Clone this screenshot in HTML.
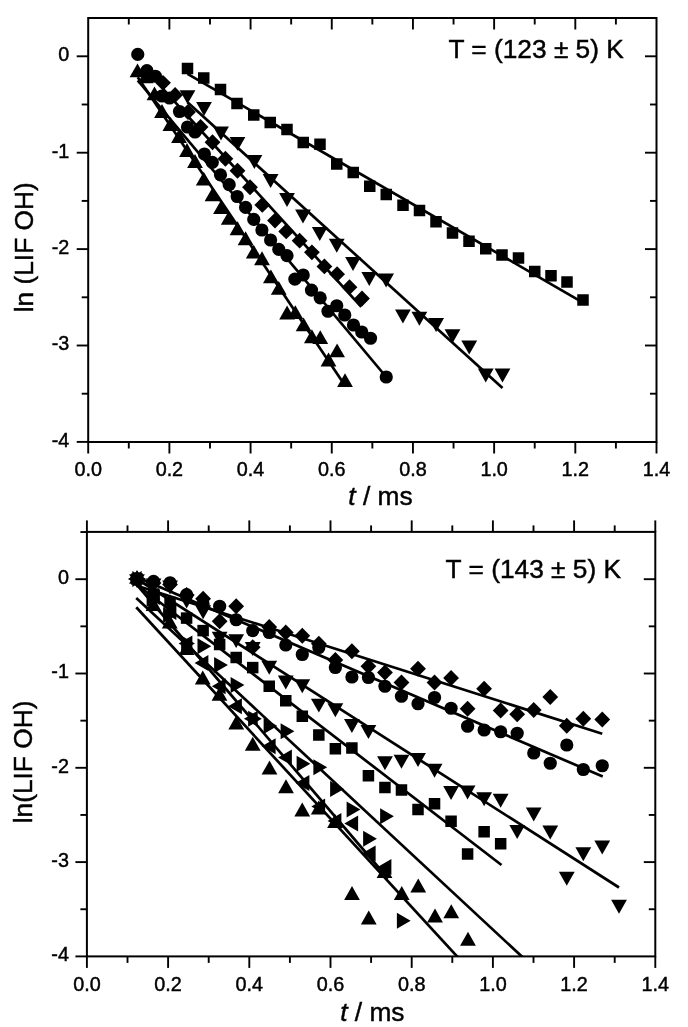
<!DOCTYPE html>
<html lang="en"><head><meta charset="utf-8"><title>ln(LIF OH) vs t</title>
<style>html,body{margin:0;padding:0;background:#fff}svg{display:block}text{font-family:'Liberation Sans', Arial, sans-serif;fill:#000;stroke:#000;stroke-width:.45px}</style>
</head><body>
<svg width="688" height="1027" viewBox="0 0 688 1027">
<rect width="688" height="1027" fill="#fff"/>
<!-- top panel: T = 123 K -->
<g stroke="#000" stroke-width="2" fill="none" stroke-linecap="butt">
<rect x="88.2" y="18" width="568.3" height="424"/>
<line x1="88.2" y1="442" x2="88.2" y2="453.5" stroke-width="1.9"/>
<line x1="128.79" y1="442" x2="128.79" y2="448.5" stroke-width="1.9"/>
<line x1="128.79" y1="18" x2="128.79" y2="24.5" stroke-width="1.9"/>
<line x1="169.39" y1="442" x2="169.39" y2="453.5" stroke-width="1.9"/>
<line x1="169.39" y1="18" x2="169.39" y2="29.5" stroke-width="1.9"/>
<line x1="209.98" y1="442" x2="209.98" y2="448.5" stroke-width="1.9"/>
<line x1="209.98" y1="18" x2="209.98" y2="24.5" stroke-width="1.9"/>
<line x1="250.57" y1="442" x2="250.57" y2="453.5" stroke-width="1.9"/>
<line x1="250.57" y1="18" x2="250.57" y2="29.5" stroke-width="1.9"/>
<line x1="291.16" y1="442" x2="291.16" y2="448.5" stroke-width="1.9"/>
<line x1="291.16" y1="18" x2="291.16" y2="24.5" stroke-width="1.9"/>
<line x1="331.76" y1="442" x2="331.76" y2="453.5" stroke-width="1.9"/>
<line x1="331.76" y1="18" x2="331.76" y2="29.5" stroke-width="1.9"/>
<line x1="372.35" y1="442" x2="372.35" y2="448.5" stroke-width="1.9"/>
<line x1="372.35" y1="18" x2="372.35" y2="24.5" stroke-width="1.9"/>
<line x1="412.94" y1="442" x2="412.94" y2="453.5" stroke-width="1.9"/>
<line x1="412.94" y1="18" x2="412.94" y2="29.5" stroke-width="1.9"/>
<line x1="453.54" y1="442" x2="453.54" y2="448.5" stroke-width="1.9"/>
<line x1="453.54" y1="18" x2="453.54" y2="24.5" stroke-width="1.9"/>
<line x1="494.13" y1="442" x2="494.13" y2="453.5" stroke-width="1.9"/>
<line x1="494.13" y1="18" x2="494.13" y2="29.5" stroke-width="1.9"/>
<line x1="534.72" y1="442" x2="534.72" y2="448.5" stroke-width="1.9"/>
<line x1="534.72" y1="18" x2="534.72" y2="24.5" stroke-width="1.9"/>
<line x1="575.31" y1="442" x2="575.31" y2="453.5" stroke-width="1.9"/>
<line x1="575.31" y1="18" x2="575.31" y2="29.5" stroke-width="1.9"/>
<line x1="615.91" y1="442" x2="615.91" y2="448.5" stroke-width="1.9"/>
<line x1="615.91" y1="18" x2="615.91" y2="24.5" stroke-width="1.9"/>
<line x1="656.5" y1="442" x2="656.5" y2="453.5" stroke-width="1.9"/>
<line x1="88.2" y1="56.3" x2="76.7" y2="56.3" stroke-width="1.9"/>
<line x1="656.5" y1="56.3" x2="645" y2="56.3" stroke-width="1.9"/>
<line x1="88.2" y1="104.5" x2="81.7" y2="104.5" stroke-width="1.9"/>
<line x1="656.5" y1="104.5" x2="650" y2="104.5" stroke-width="1.9"/>
<line x1="88.2" y1="152.7" x2="76.7" y2="152.7" stroke-width="1.9"/>
<line x1="656.5" y1="152.7" x2="645" y2="152.7" stroke-width="1.9"/>
<line x1="88.2" y1="200.9" x2="81.7" y2="200.9" stroke-width="1.9"/>
<line x1="656.5" y1="200.9" x2="650" y2="200.9" stroke-width="1.9"/>
<line x1="88.2" y1="249.1" x2="76.7" y2="249.1" stroke-width="1.9"/>
<line x1="656.5" y1="249.1" x2="645" y2="249.1" stroke-width="1.9"/>
<line x1="88.2" y1="297.3" x2="81.7" y2="297.3" stroke-width="1.9"/>
<line x1="656.5" y1="297.3" x2="650" y2="297.3" stroke-width="1.9"/>
<line x1="88.2" y1="345.5" x2="76.7" y2="345.5" stroke-width="1.9"/>
<line x1="656.5" y1="345.5" x2="645" y2="345.5" stroke-width="1.9"/>
<line x1="88.2" y1="393.7" x2="81.7" y2="393.7" stroke-width="1.9"/>
<line x1="656.5" y1="393.7" x2="650" y2="393.7" stroke-width="1.9"/>
<line x1="88.2" y1="441.9" x2="76.7" y2="441.9" stroke-width="1.9"/>
</g>
<g font-size="19.8">
<text x="88.2" y="476.3" text-anchor="middle">0.0</text>
<text x="169.39" y="476.3" text-anchor="middle">0.2</text>
<text x="250.57" y="476.3" text-anchor="middle">0.4</text>
<text x="331.76" y="476.3" text-anchor="middle">0.6</text>
<text x="412.94" y="476.3" text-anchor="middle">0.8</text>
<text x="494.13" y="476.3" text-anchor="middle">1.0</text>
<text x="575.31" y="476.3" text-anchor="middle">1.2</text>
<text x="656.5" y="476.3" text-anchor="middle">1.4</text>
<text x="69.3" y="61.2" text-anchor="end">0</text>
<text x="69.3" y="157.6" text-anchor="end">-1</text>
<text x="69.3" y="254" text-anchor="end">-2</text>
<text x="69.3" y="350.4" text-anchor="end">-3</text>
<text x="69.3" y="446.8" text-anchor="end">-4</text>
</g>
<g font-size="26.3">
<text x="348.3" y="504.5"><tspan font-style="italic">t</tspan> / ms</text>
<text transform="translate(32.6 312.3) rotate(-90)">ln (LIF OH)</text>
<text x="448.4" y="57.8">T = (123 ± 5) K</text>
</g>
<g stroke="#000" fill="none" stroke-linecap="butt">
<line x1="187.5" y1="73.9" x2="583" y2="302.6" stroke-width="2.7"/>
<line x1="187.5" y1="102.3" x2="502.5" y2="388" stroke-width="2.7"/>
<line x1="162.8" y1="88.6" x2="361.25" y2="306.9" stroke-width="2.7"/>
<line x1="137.75" y1="80.3" x2="386.25" y2="377" stroke-width="2.7"/>
<line x1="137.75" y1="77.2" x2="345" y2="385.6" stroke-width="2.7"/>
</g>
<g fill="#000">
<rect x="181.75" y="62.75" width="11.5" height="11.5"/>
<rect x="198" y="72.25" width="11.5" height="11.5"/>
<rect x="214.75" y="83.75" width="11.5" height="11.5"/>
<rect x="231.25" y="97.75" width="11.5" height="11.5"/>
<rect x="248" y="109.25" width="11.5" height="11.5"/>
<rect x="264.5" y="116.75" width="11.5" height="11.5"/>
<rect x="281.25" y="123.75" width="11.5" height="11.5"/>
<rect x="297.5" y="136.75" width="11.5" height="11.5"/>
<rect x="314.25" y="138.5" width="11.5" height="11.5"/>
<rect x="331" y="158.25" width="11.5" height="11.5"/>
<rect x="347.5" y="166.75" width="11.5" height="11.5"/>
<rect x="364" y="180.5" width="11.5" height="11.5"/>
<rect x="380.5" y="188.75" width="11.5" height="11.5"/>
<rect x="397.25" y="199.5" width="11.5" height="11.5"/>
<rect x="413.75" y="204.75" width="11.5" height="11.5"/>
<rect x="430.25" y="216" width="11.5" height="11.5"/>
<rect x="446.75" y="227.25" width="11.5" height="11.5"/>
<rect x="463.25" y="235.5" width="11.5" height="11.5"/>
<rect x="480" y="243" width="11.5" height="11.5"/>
<rect x="496.25" y="249.25" width="11.5" height="11.5"/>
<rect x="512.75" y="252.25" width="11.5" height="11.5"/>
<rect x="529" y="265.75" width="11.5" height="11.5"/>
<rect x="545.25" y="270" width="11.5" height="11.5"/>
<rect x="561.25" y="276.25" width="11.5" height="11.5"/>
<rect x="577.25" y="294.25" width="11.5" height="11.5"/>
<polygon points="179.6,90.2 195.4,90.2 187.5,104"/>
<polygon points="196.1,102.1 211.9,102.1 204,115.9"/>
<polygon points="213.1,126.6 228.9,126.6 221,140.4"/>
<polygon points="229.6,137 245.4,137 237.5,150.8"/>
<polygon points="246.5,155.1 262.3,155.1 254.4,168.9"/>
<polygon points="262.7,174.1 278.5,174.1 270.6,187.9"/>
<polygon points="279.1,193.1 294.9,193.1 287,206.9"/>
<polygon points="295.1,209.6 310.9,209.6 303,223.4"/>
<polygon points="311.85,227.1 327.65,227.1 319.75,240.9"/>
<polygon points="328.85,238.85 344.65,238.85 336.75,252.65"/>
<polygon points="345.1,257.1 360.9,257.1 353,270.9"/>
<polygon points="361.35,272.1 377.15,272.1 369.25,285.9"/>
<polygon points="378.2,273.6 394,273.6 386.1,287.4"/>
<polygon points="395,309.6 410.8,309.6 402.9,323.4"/>
<polygon points="411.5,311.85 427.3,311.85 419.4,325.65"/>
<polygon points="428.2,318.1 444,318.1 436.1,331.9"/>
<polygon points="444.6,329.35 460.4,329.35 452.5,343.15"/>
<polygon points="461.35,340.6 477.15,340.6 469.25,354.4"/>
<polygon points="477.85,368.6 493.65,368.6 485.75,382.4"/>
<polygon points="494.6,368.6 510.4,368.6 502.5,382.4"/>
<polygon points="163,74.9 170.9,82.8 163,90.7 155.1,82.8"/>
<polygon points="175.1,87.1 183,95 175.1,102.9 167.2,95"/>
<polygon points="188,104.1 195.9,112 188,119.9 180.1,112"/>
<polygon points="200.6,119.1 208.5,127 200.6,134.9 192.7,127"/>
<polygon points="212.5,134.35 220.4,142.25 212.5,150.15 204.6,142.25"/>
<polygon points="225.4,150.85 233.3,158.75 225.4,166.65 217.5,158.75"/>
<polygon points="237.5,162.85 245.4,170.75 237.5,178.65 229.6,170.75"/>
<polygon points="250,179.35 257.9,187.25 250,195.15 242.1,187.25"/>
<polygon points="262.3,197 270.2,204.9 262.3,212.8 254.4,204.9"/>
<polygon points="275,212.7 282.9,220.6 275,228.5 267.1,220.6"/>
<polygon points="286.2,223.5 294.1,231.4 286.2,239.3 278.3,231.4"/>
<polygon points="299.6,232.8 307.5,240.7 299.6,248.6 291.7,240.7"/>
<polygon points="311.9,244.4 319.8,252.3 311.9,260.2 304,252.3"/>
<polygon points="324.4,258.5 332.3,266.4 324.4,274.3 316.5,266.4"/>
<polygon points="337.1,266.3 345,274.2 337.1,282.1 329.2,274.2"/>
<polygon points="349.5,279.3 357.4,287.2 349.5,295.1 341.6,287.2"/>
<polygon points="362,290.6 369.9,298.5 362,306.4 354.1,298.5"/>
<circle cx="137.75" cy="54.4" r="6.6"/>
<circle cx="146.9" cy="70.6" r="6.6"/>
<circle cx="155.4" cy="76.25" r="6.6"/>
<circle cx="162" cy="96" r="6.6"/>
<circle cx="169.5" cy="98" r="6.6"/>
<circle cx="179.5" cy="111.5" r="6.6"/>
<circle cx="187.5" cy="127" r="6.6"/>
<circle cx="195" cy="132" r="6.6"/>
<circle cx="204.4" cy="154" r="6.6"/>
<circle cx="212.3" cy="162.3" r="6.6"/>
<circle cx="220.5" cy="174.8" r="6.6"/>
<circle cx="229.2" cy="184.7" r="6.6"/>
<circle cx="237.2" cy="196.5" r="6.6"/>
<circle cx="245.6" cy="207.4" r="6.6"/>
<circle cx="253.75" cy="219.4" r="6.6"/>
<circle cx="261.9" cy="230" r="6.6"/>
<circle cx="270.6" cy="240" r="6.6"/>
<circle cx="278.8" cy="249.3" r="6.6"/>
<circle cx="287" cy="255.7" r="6.6"/>
<circle cx="294.9" cy="279.2" r="6.6"/>
<circle cx="303.2" cy="275" r="6.6"/>
<circle cx="311.5" cy="290.1" r="6.6"/>
<circle cx="320.2" cy="297.8" r="6.6"/>
<circle cx="328" cy="311.25" r="6.6"/>
<circle cx="336.75" cy="305.75" r="6.6"/>
<circle cx="344.75" cy="315" r="6.6"/>
<circle cx="353.5" cy="325" r="6.6"/>
<circle cx="361.75" cy="332" r="6.6"/>
<circle cx="370.5" cy="338.25" r="6.6"/>
<circle cx="386.25" cy="377" r="6.6"/>
<polygon points="137.5,63.5 145.4,77.3 129.6,77.3"/>
<polygon points="145.6,69.5 153.5,83.3 137.7,83.3"/>
<polygon points="154.5,86.5 162.4,100.3 146.6,100.3"/>
<polygon points="162,104.1 169.9,117.9 154.1,117.9"/>
<polygon points="170.4,117.1 178.3,130.9 162.5,130.9"/>
<polygon points="179,129.1 186.9,142.9 171.1,142.9"/>
<polygon points="187,143.1 194.9,156.9 179.1,156.9"/>
<polygon points="195,154.1 202.9,167.9 187.1,167.9"/>
<polygon points="203.75,171.7 211.65,185.5 195.85,185.5"/>
<polygon points="212.5,187.4 220.4,201.2 204.6,201.2"/>
<polygon points="221,200.2 228.9,214 213.1,214"/>
<polygon points="228.75,211 236.65,224.8 220.85,224.8"/>
<polygon points="237.5,221.35 245.4,235.15 229.6,235.15"/>
<polygon points="245.6,231.35 253.5,245.15 237.7,245.15"/>
<polygon points="253.75,244.7 261.65,258.5 245.85,258.5"/>
<polygon points="262,251.35 269.9,265.15 254.1,265.15"/>
<polygon points="270.9,269.5 278.8,283.3 263,283.3"/>
<polygon points="278.75,281 286.65,294.8 270.85,294.8"/>
<polygon points="287.1,305.6 295,319.4 279.2,319.4"/>
<polygon points="295.3,305.2 303.2,319 287.4,319"/>
<polygon points="303.6,317.5 311.5,331.3 295.7,331.3"/>
<polygon points="311.9,329.35 319.8,343.15 304,343.15"/>
<polygon points="320.25,330.2 328.15,344 312.35,344"/>
<polygon points="328.5,352.6 336.4,366.4 320.6,366.4"/>
<polygon points="337.1,343.5 345,357.3 329.2,357.3"/>
<polygon points="345,373.2 352.9,387 337.1,387"/>
</g>
<!-- bottom panel: T = 143 K -->
<g stroke="#000" stroke-width="2" fill="none" stroke-linecap="butt">
<rect x="86.9" y="531.9" width="568.4" height="424.5"/>
<line x1="86.9" y1="956.4" x2="86.9" y2="967.9" stroke-width="1.9"/>
<line x1="86.9" y1="531.9" x2="86.9" y2="520.4" stroke-width="1.9"/>
<line x1="127.5" y1="956.4" x2="127.5" y2="962.9" stroke-width="1.9"/>
<line x1="127.5" y1="531.9" x2="127.5" y2="525.4" stroke-width="1.9"/>
<line x1="168.1" y1="956.4" x2="168.1" y2="967.9" stroke-width="1.9"/>
<line x1="168.1" y1="531.9" x2="168.1" y2="520.4" stroke-width="1.9"/>
<line x1="208.7" y1="956.4" x2="208.7" y2="962.9" stroke-width="1.9"/>
<line x1="208.7" y1="531.9" x2="208.7" y2="525.4" stroke-width="1.9"/>
<line x1="249.3" y1="956.4" x2="249.3" y2="967.9" stroke-width="1.9"/>
<line x1="249.3" y1="531.9" x2="249.3" y2="520.4" stroke-width="1.9"/>
<line x1="289.9" y1="956.4" x2="289.9" y2="962.9" stroke-width="1.9"/>
<line x1="289.9" y1="531.9" x2="289.9" y2="525.4" stroke-width="1.9"/>
<line x1="330.5" y1="956.4" x2="330.5" y2="967.9" stroke-width="1.9"/>
<line x1="330.5" y1="531.9" x2="330.5" y2="520.4" stroke-width="1.9"/>
<line x1="371.1" y1="956.4" x2="371.1" y2="962.9" stroke-width="1.9"/>
<line x1="371.1" y1="531.9" x2="371.1" y2="525.4" stroke-width="1.9"/>
<line x1="411.7" y1="956.4" x2="411.7" y2="967.9" stroke-width="1.9"/>
<line x1="411.7" y1="531.9" x2="411.7" y2="520.4" stroke-width="1.9"/>
<line x1="452.3" y1="956.4" x2="452.3" y2="962.9" stroke-width="1.9"/>
<line x1="452.3" y1="531.9" x2="452.3" y2="525.4" stroke-width="1.9"/>
<line x1="492.9" y1="956.4" x2="492.9" y2="967.9" stroke-width="1.9"/>
<line x1="492.9" y1="531.9" x2="492.9" y2="520.4" stroke-width="1.9"/>
<line x1="533.5" y1="956.4" x2="533.5" y2="962.9" stroke-width="1.9"/>
<line x1="533.5" y1="531.9" x2="533.5" y2="525.4" stroke-width="1.9"/>
<line x1="574.1" y1="956.4" x2="574.1" y2="967.9" stroke-width="1.9"/>
<line x1="574.1" y1="531.9" x2="574.1" y2="520.4" stroke-width="1.9"/>
<line x1="614.7" y1="956.4" x2="614.7" y2="962.9" stroke-width="1.9"/>
<line x1="614.7" y1="531.9" x2="614.7" y2="525.4" stroke-width="1.9"/>
<line x1="655.3" y1="956.4" x2="655.3" y2="967.9" stroke-width="1.9"/>
<line x1="655.3" y1="531.9" x2="655.3" y2="520.4" stroke-width="1.9"/>
<line x1="86.9" y1="532.05" x2="80.4" y2="532.05" stroke-width="1.9"/>
<line x1="86.9" y1="579.2" x2="75.4" y2="579.2" stroke-width="1.9"/>
<line x1="655.3" y1="579.2" x2="643.8" y2="579.2" stroke-width="1.9"/>
<line x1="86.9" y1="626.35" x2="80.4" y2="626.35" stroke-width="1.9"/>
<line x1="655.3" y1="626.35" x2="648.8" y2="626.35" stroke-width="1.9"/>
<line x1="86.9" y1="673.5" x2="75.4" y2="673.5" stroke-width="1.9"/>
<line x1="655.3" y1="673.5" x2="643.8" y2="673.5" stroke-width="1.9"/>
<line x1="86.9" y1="720.65" x2="80.4" y2="720.65" stroke-width="1.9"/>
<line x1="655.3" y1="720.65" x2="648.8" y2="720.65" stroke-width="1.9"/>
<line x1="86.9" y1="767.8" x2="75.4" y2="767.8" stroke-width="1.9"/>
<line x1="655.3" y1="767.8" x2="643.8" y2="767.8" stroke-width="1.9"/>
<line x1="86.9" y1="814.95" x2="80.4" y2="814.95" stroke-width="1.9"/>
<line x1="655.3" y1="814.95" x2="648.8" y2="814.95" stroke-width="1.9"/>
<line x1="86.9" y1="862.1" x2="75.4" y2="862.1" stroke-width="1.9"/>
<line x1="655.3" y1="862.1" x2="643.8" y2="862.1" stroke-width="1.9"/>
<line x1="86.9" y1="909.25" x2="80.4" y2="909.25" stroke-width="1.9"/>
<line x1="655.3" y1="909.25" x2="648.8" y2="909.25" stroke-width="1.9"/>
<line x1="86.9" y1="956.4" x2="75.4" y2="956.4" stroke-width="1.9"/>
</g>
<g font-size="19.8">
<text x="86.9" y="991.2" text-anchor="middle">0.0</text>
<text x="168.1" y="991.2" text-anchor="middle">0.2</text>
<text x="249.3" y="991.2" text-anchor="middle">0.4</text>
<text x="330.5" y="991.2" text-anchor="middle">0.6</text>
<text x="411.7" y="991.2" text-anchor="middle">0.8</text>
<text x="492.9" y="991.2" text-anchor="middle">1.0</text>
<text x="574.1" y="991.2" text-anchor="middle">1.2</text>
<text x="655.3" y="991.2" text-anchor="middle">1.4</text>
<text x="68.9" y="584.1" text-anchor="end">0</text>
<text x="68.9" y="678.4" text-anchor="end">-1</text>
<text x="68.9" y="772.7" text-anchor="end">-2</text>
<text x="68.9" y="867" text-anchor="end">-3</text>
<text x="68.9" y="961.3" text-anchor="end">-4</text>
</g>
<g font-size="26.3">
<text x="340.2" y="1020.6"><tspan font-style="italic">t</tspan> / ms</text>
<text transform="translate(31.5 823.3) rotate(-90)">ln(LIF OH)</text>
<text x="445.6" y="577.6">T = (143 ± 5) K</text>
</g>
<clipPath id="cb"><rect x="86.9" y="531.9" width="568.4" height="424.5"/></clipPath>
<g stroke="#000" fill="none" stroke-linecap="butt" clip-path="url(#cb)">
<line x1="137" y1="585.7" x2="602.25" y2="733.75" stroke-width="2.7"/>
<line x1="137" y1="577.3" x2="602.75" y2="776.5" stroke-width="2.7"/>
<line x1="137" y1="579" x2="619" y2="887.5" stroke-width="2.7"/>
<line x1="137" y1="584.7" x2="501.5" y2="865" stroke-width="2.7"/>
<line x1="136.25" y1="598" x2="523" y2="957.6" stroke-width="2.7"/>
<line x1="136.25" y1="584" x2="388" y2="878.5" stroke-width="2.7"/>
<line x1="136.25" y1="607.25" x2="458" y2="957.4" stroke-width="2.7"/>
</g>
<g fill="#000">
<polygon points="137,571.1 144.9,579 137,586.9 129.1,579"/>
<polygon points="153.53,575.1 161.43,583 153.53,590.9 145.63,583"/>
<polygon points="170.06,576.5 177.96,584.4 170.06,592.3 162.16,584.4"/>
<polygon points="186.59,587.1 194.49,595 186.59,602.9 178.69,595"/>
<polygon points="203.12,590.85 211.02,598.75 203.12,606.65 195.22,598.75"/>
<polygon points="219.65,613.35 227.55,621.25 219.65,629.15 211.75,621.25"/>
<polygon points="236.18,598.35 244.08,606.25 236.18,614.15 228.28,606.25"/>
<polygon points="252.71,639.3 260.61,647.2 252.71,655.1 244.81,647.2"/>
<polygon points="269.24,619 277.14,626.9 269.24,634.8 261.34,626.9"/>
<polygon points="285.77,624.6 293.67,632.5 285.77,640.4 277.87,632.5"/>
<polygon points="302.3,627.85 310.2,635.75 302.3,643.65 294.4,635.75"/>
<polygon points="318.83,635.85 326.73,643.75 318.83,651.65 310.93,643.75"/>
<polygon points="335.36,652.1 343.26,660 335.36,667.9 327.46,660"/>
<polygon points="351.89,643.35 359.79,651.25 351.89,659.15 343.99,651.25"/>
<polygon points="368.42,658.35 376.32,666.25 368.42,674.15 360.52,666.25"/>
<polygon points="384.95,664.6 392.85,672.5 384.95,680.4 377.05,672.5"/>
<polygon points="401.48,674.6 409.38,682.5 401.48,690.4 393.58,682.5"/>
<polygon points="418.01,660.85 425.91,668.75 418.01,676.65 410.11,668.75"/>
<polygon points="434.54,674.6 442.44,682.5 434.54,690.4 426.64,682.5"/>
<polygon points="451.07,670.1 458.97,678 451.07,685.9 443.17,678"/>
<polygon points="467.6,700.85 475.5,708.75 467.6,716.65 459.7,708.75"/>
<polygon points="484.13,680.85 492.03,688.75 484.13,696.65 476.23,688.75"/>
<polygon points="500.66,702.6 508.56,710.5 500.66,718.4 492.76,710.5"/>
<polygon points="517.19,706.35 525.09,714.25 517.19,722.15 509.29,714.25"/>
<polygon points="533.72,702.1 541.62,710 533.72,717.9 525.82,710"/>
<polygon points="550.25,689.1 558.15,697 550.25,704.9 542.35,697"/>
<polygon points="566.78,717.85 574.68,725.75 566.78,733.65 558.88,725.75"/>
<polygon points="583.31,710.85 591.21,718.75 583.31,726.65 575.41,718.75"/>
<polygon points="602.25,711.6 610.15,719.5 602.25,727.4 594.35,719.5"/>
<circle cx="137" cy="579" r="6.6"/>
<circle cx="153.53" cy="581.4" r="6.6"/>
<circle cx="170.06" cy="582.75" r="6.6"/>
<circle cx="186.59" cy="594.6" r="6.6"/>
<circle cx="203.12" cy="604" r="6.6"/>
<circle cx="219.65" cy="606.25" r="6.6"/>
<circle cx="236.18" cy="619.75" r="6.6"/>
<circle cx="252.71" cy="630.6" r="6.6"/>
<circle cx="269.24" cy="632.5" r="6.6"/>
<circle cx="285.77" cy="645" r="6.6"/>
<circle cx="302.3" cy="654.5" r="6.6"/>
<circle cx="318.83" cy="647.5" r="6.6"/>
<circle cx="335.36" cy="667.5" r="6.6"/>
<circle cx="351.89" cy="677" r="6.6"/>
<circle cx="368.42" cy="677.5" r="6.6"/>
<circle cx="384.95" cy="686.25" r="6.6"/>
<circle cx="401.48" cy="696.25" r="6.6"/>
<circle cx="418.01" cy="703.75" r="6.6"/>
<circle cx="434.54" cy="697.5" r="6.6"/>
<circle cx="451.07" cy="708.25" r="6.6"/>
<circle cx="467.6" cy="726.25" r="6.6"/>
<circle cx="484.13" cy="730" r="6.6"/>
<circle cx="500.66" cy="731.75" r="6.6"/>
<circle cx="517.19" cy="733.25" r="6.6"/>
<circle cx="533.72" cy="753" r="6.6"/>
<circle cx="550.25" cy="763.25" r="6.6"/>
<circle cx="566.78" cy="745" r="6.6"/>
<circle cx="583.31" cy="769.5" r="6.6"/>
<circle cx="602.25" cy="765.75" r="6.6"/>
<polygon points="129.1,574.3 144.9,574.3 137,588.1"/>
<polygon points="145.63,578.6 161.43,578.6 153.53,592.4"/>
<polygon points="162.16,580.6 177.96,580.6 170.06,594.4"/>
<polygon points="178.69,594.6 194.49,594.6 186.59,608.4"/>
<polygon points="195.22,605.35 211.02,605.35 203.12,619.15"/>
<polygon points="211.75,631.85 227.55,631.85 219.65,645.65"/>
<polygon points="228.28,634.2 244.08,634.2 236.18,648"/>
<polygon points="244.81,642.1 260.61,642.1 252.71,655.9"/>
<polygon points="261.34,660.85 277.14,660.85 269.24,674.65"/>
<polygon points="277.87,675.6 293.67,675.6 285.77,689.4"/>
<polygon points="294.4,679.35 310.2,679.35 302.3,693.15"/>
<polygon points="310.93,698.7 326.73,698.7 318.83,712.5"/>
<polygon points="327.46,703.35 343.26,703.35 335.36,717.15"/>
<polygon points="343.99,719.1 359.79,719.1 351.89,732.9"/>
<polygon points="360.52,725.1 376.32,725.1 368.42,738.9"/>
<polygon points="377.05,756.35 392.85,756.35 384.95,770.15"/>
<polygon points="393.58,754.85 409.38,754.85 401.48,768.65"/>
<polygon points="410.11,753.1 425.91,753.1 418.01,766.9"/>
<polygon points="426.64,763.85 442.44,763.85 434.54,777.65"/>
<polygon points="443.17,786.1 458.97,786.1 451.07,799.9"/>
<polygon points="459.7,785.6 475.5,785.6 467.6,799.4"/>
<polygon points="476.23,792.35 492.03,792.35 484.13,806.15"/>
<polygon points="492.76,793.85 508.56,793.85 500.66,807.65"/>
<polygon points="509.29,825.1 525.09,825.1 517.19,838.9"/>
<polygon points="525.82,807.6 541.62,807.6 533.72,821.4"/>
<polygon points="542.35,825.6 558.15,825.6 550.25,839.4"/>
<polygon points="558.88,871.85 574.68,871.85 566.78,885.65"/>
<polygon points="575.41,847.35 591.21,847.35 583.31,861.15"/>
<polygon points="594.35,840.6 610.15,840.6 602.25,854.4"/>
<polygon points="611.1,899.85 626.9,899.85 619,913.65"/>
<rect x="131.25" y="573.25" width="11.5" height="11.5"/>
<rect x="147.78" y="588.25" width="11.5" height="11.5"/>
<rect x="164.31" y="596.75" width="11.5" height="11.5"/>
<rect x="180.84" y="612.35" width="11.5" height="11.5"/>
<rect x="197.37" y="624.85" width="11.5" height="11.5"/>
<rect x="213.9" y="638.75" width="11.5" height="11.5"/>
<rect x="230.43" y="651.75" width="11.5" height="11.5"/>
<rect x="246.96" y="661.85" width="11.5" height="11.5"/>
<rect x="263.49" y="680.5" width="11.5" height="11.5"/>
<rect x="280.02" y="695" width="11.5" height="11.5"/>
<rect x="296.55" y="710.5" width="11.5" height="11.5"/>
<rect x="313.08" y="729.25" width="11.5" height="11.5"/>
<rect x="329.61" y="743" width="11.5" height="11.5"/>
<rect x="346.14" y="742.25" width="11.5" height="11.5"/>
<rect x="362.67" y="770" width="11.5" height="11.5"/>
<rect x="379.2" y="781.75" width="11.5" height="11.5"/>
<rect x="395.73" y="784.25" width="11.5" height="11.5"/>
<rect x="412.26" y="803.75" width="11.5" height="11.5"/>
<rect x="428.79" y="798" width="11.5" height="11.5"/>
<rect x="445.32" y="815.5" width="11.5" height="11.5"/>
<rect x="461.85" y="848.25" width="11.5" height="11.5"/>
<rect x="478.38" y="826" width="11.5" height="11.5"/>
<rect x="494.91" y="838" width="11.5" height="11.5"/>
<polygon points="132.3,571.1 146.1,579 132.3,586.9"/>
<polygon points="146.6,591.1 160.4,599 146.6,606.9"/>
<polygon points="163.1,607.1 176.9,615 163.1,622.9"/>
<polygon points="181.1,635.6 194.9,643.5 181.1,651.4"/>
<polygon points="197.5,638.35 211.3,646.25 197.5,654.15"/>
<polygon points="214.1,657.1 227.9,665 214.1,672.9"/>
<polygon points="230.6,677.1 244.4,685 230.6,692.9"/>
<polygon points="248.1,710.85 261.9,718.75 248.1,726.65"/>
<polygon points="263.6,718.1 277.4,726 263.6,733.9"/>
<polygon points="280.6,723.35 294.4,731.25 280.6,739.15"/>
<polygon points="296.6,755.85 310.4,763.75 296.6,771.65"/>
<polygon points="313.35,759.35 327.15,767.25 313.35,775.15"/>
<polygon points="330.1,781.1 343.9,789 330.1,796.9"/>
<polygon points="346.6,801.6 360.4,809.5 346.6,817.4"/>
<polygon points="363.1,830.85 376.9,838.75 363.1,846.65"/>
<polygon points="380.1,808.35 393.9,816.25 380.1,824.15"/>
<polygon points="396.85,912.85 410.65,920.75 396.85,928.65"/>
<polygon points="141.7,571.1 127.9,579 141.7,586.9"/>
<polygon points="159.9,589.1 146.1,597 159.9,604.9"/>
<polygon points="176.4,604.1 162.6,612 176.4,619.9"/>
<polygon points="192.4,635.6 178.6,643.5 192.4,651.4"/>
<polygon points="208.4,655.1 194.6,663 208.4,670.9"/>
<polygon points="225.65,678.35 211.85,686.25 225.65,694.15"/>
<polygon points="241.9,698.35 228.1,706.25 241.9,714.15"/>
<polygon points="257.7,710.85 243.9,718.75 257.7,726.65"/>
<polygon points="275.65,738.35 261.85,746.25 275.65,754.15"/>
<polygon points="291.9,749.6 278.1,757.5 291.9,765.4"/>
<polygon points="309.4,775.1 295.6,783 309.4,790.9"/>
<polygon points="325.15,798.6 311.35,806.5 325.15,814.4"/>
<polygon points="341.4,813.1 327.6,821 341.4,828.9"/>
<polygon points="358.15,815.6 344.35,823.5 358.15,831.4"/>
<polygon points="375.65,845.6 361.85,853.5 375.65,861.4"/>
<polygon points="391.4,859.1 377.6,867 391.4,874.9"/>
<polygon points="137,569.9 144.9,583.7 129.1,583.7"/>
<polygon points="153.5,597.1 161.4,610.9 145.6,610.9"/>
<polygon points="169.75,614.6 177.65,628.4 161.85,628.4"/>
<polygon points="186.6,641.1 194.5,654.9 178.7,654.9"/>
<polygon points="202.75,670.6 210.65,684.4 194.85,684.4"/>
<polygon points="219.5,686.85 227.4,700.65 211.6,700.65"/>
<polygon points="236.25,715.6 244.15,729.4 228.35,729.4"/>
<polygon points="252.75,736.85 260.65,750.65 244.85,750.65"/>
<polygon points="269.5,760.6 277.4,774.4 261.6,774.4"/>
<polygon points="286,779.35 293.9,793.15 278.1,793.15"/>
<polygon points="302.25,802.6 310.15,816.4 294.35,816.4"/>
<polygon points="318.75,800.6 326.65,814.4 310.85,814.4"/>
<polygon points="335,814.1 342.9,827.9 327.1,827.9"/>
<polygon points="352,886.1 359.9,899.9 344.1,899.9"/>
<polygon points="368.75,910.6 376.65,924.4 360.85,924.4"/>
<polygon points="384.5,864.1 392.4,877.9 376.6,877.9"/>
<polygon points="401.75,886.1 409.65,899.9 393.85,899.9"/>
<polygon points="418.25,878.6 426.15,892.4 410.35,892.4"/>
<polygon points="435,908.6 442.9,922.4 427.1,922.4"/>
<polygon points="451.25,904.35 459.15,918.15 443.35,918.15"/>
<polygon points="468,931.85 475.9,945.65 460.1,945.65"/>
</g>
</svg>
</body></html>
